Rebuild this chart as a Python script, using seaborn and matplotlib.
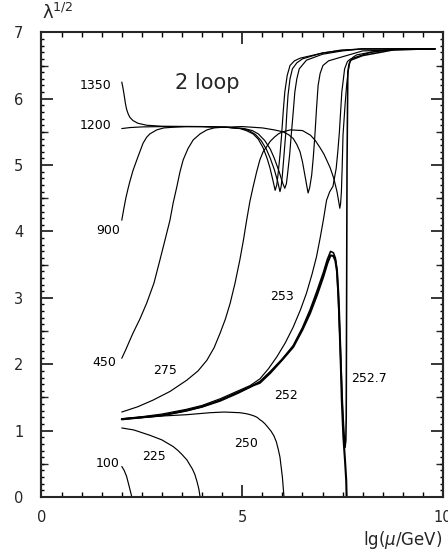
import matplotlib
matplotlib.use('Agg')
import matplotlib.pyplot as plt
from matplotlib.ticker import MultipleLocator
import numpy as np
import seaborn as sns

# lambda^(1/2) vs lg(mu/GeV) at 2 loop, one curve per Higgs mass (GeV)
x_1350 = [2.0, 2.03, 2.06, 2.09, 2.12, 2.16, 2.2, 2.28, 2.4, 2.62, 3.0, 4.0, 4.6, 4.94, 5.1, 5.27,
          5.4, 5.52, 5.62, 5.69, 5.76, 5.82, 5.86, 5.89, 5.94, 5.98, 6.02, 6.06, 6.12, 6.19, 6.3,
          6.44, 6.94, 7.43, 8.0, 9.8]
y_1350 = [6.25, 6.16, 6.05, 5.93, 5.84, 5.77, 5.72, 5.67, 5.63, 5.6, 5.585, 5.58, 5.57, 5.55, 5.52, 5.47,
          5.39, 5.26, 5.1, 4.96, 4.78, 4.62, 4.7, 4.85, 5.15, 5.45, 5.8, 6.1, 6.35, 6.5, 6.57,
          6.61, 6.68, 6.73, 6.75, 6.75]

x_1200 = [2.0, 2.2, 2.5, 3.0, 4.0, 4.6, 5.0, 5.17, 5.33, 5.47, 5.6, 5.7, 5.8, 5.88, 5.94, 5.97,
          6.0, 6.04, 6.08, 6.11, 6.14, 6.19, 6.25, 6.36, 6.5, 7.0, 7.5, 8.0, 9.8]
y_1200 = [5.55, 5.565, 5.575, 5.58, 5.58, 5.57, 5.55, 5.52, 5.46, 5.37, 5.24, 5.1, 4.93, 4.76, 4.6, 4.68,
          4.85, 5.15, 5.45, 5.78, 6.05, 6.3, 6.45, 6.54, 6.6, 6.69, 6.73, 6.75, 6.75]

x_900 = [2.0, 2.05, 2.1, 2.15, 2.2, 2.28, 2.4, 2.53, 2.62, 2.7, 2.87, 3.05, 3.28, 3.6, 4.0, 4.6,
         5.05, 5.25, 5.4, 5.56, 5.7, 5.8, 5.92, 6.0, 6.06, 6.1, 6.13, 6.18, 6.22, 6.27, 6.31, 6.36,
         6.42, 6.6, 7.0, 7.5, 8.0, 9.8]
y_900 = [4.17, 4.34, 4.5, 4.63, 4.75, 4.92, 5.12, 5.33, 5.42, 5.47, 5.53, 5.56, 5.57, 5.58, 5.58, 5.57,
         5.55, 5.52, 5.47, 5.37, 5.24, 5.1, 4.9, 4.74, 4.65, 4.72, 4.87, 5.15, 5.45, 5.8, 6.1, 6.3,
         6.45, 6.58, 6.67, 6.72, 6.75, 6.75]

x_450 = [2.0, 2.1, 2.2, 2.28, 2.45, 2.62, 2.8, 2.95, 3.08, 3.2, 3.28, 3.37, 3.45, 3.53, 3.65, 3.78,
         3.95, 4.12, 4.3, 4.52, 5.0, 5.5, 5.8, 6.02, 6.15, 6.27, 6.36, 6.44, 6.5, 6.56, 6.61, 6.64,
         6.68, 6.73, 6.77, 6.81, 6.85, 6.89, 6.94, 7.01, 7.15, 7.43, 8.0, 9.8]
y_450 = [2.09, 2.22, 2.36, 2.47, 2.68, 2.92, 3.22, 3.57, 3.88, 4.17, 4.43, 4.67, 4.9, 5.08, 5.25, 5.38,
         5.47, 5.53, 5.56, 5.57, 5.58, 5.56, 5.53, 5.5, 5.46, 5.4, 5.31, 5.2, 5.05, 4.85, 4.68, 4.58,
         4.66, 4.85, 5.12, 5.45, 5.85, 6.2, 6.38, 6.5, 6.57, 6.62, 6.72, 6.75]

x_275 = [2.0, 2.4, 2.78, 3.2, 3.62, 3.9, 4.12, 4.3, 4.45, 4.58, 4.7, 4.82, 4.94, 5.03, 5.11, 5.19,
         5.27, 5.36, 5.44, 5.52, 5.6, 5.7, 5.8, 5.9, 6.0, 6.2, 6.5, 6.7, 6.82, 6.94, 7.03, 7.1, 7.19,
         7.28, 7.36, 7.4, 7.43, 7.45, 7.47, 7.49, 7.51, 7.56, 7.6, 7.64, 7.68, 7.75, 7.85, 8.2, 8.7, 9.8]
y_275 = [1.28, 1.36, 1.46, 1.59, 1.76, 1.9, 2.06, 2.25, 2.47, 2.68, 2.92, 3.22, 3.57, 3.87, 4.17, 4.45,
         4.67, 4.9, 5.08, 5.2, 5.27, 5.36, 5.42, 5.47, 5.5, 5.53, 5.52, 5.45, 5.37, 5.26, 5.17, 5.08, 4.96,
         4.8, 4.6, 4.46, 4.35, 4.42, 4.6, 4.98, 5.45, 5.9, 6.2, 6.42, 6.55, 6.62, 6.66, 6.7, 6.74, 6.75]

x_253 = [2.0, 2.5, 3.0, 3.6, 4.0, 4.45, 4.9, 5.2, 5.44, 5.65, 5.86, 6.07, 6.27, 6.45, 6.6, 6.74,
         6.85, 6.94, 7.02, 7.1, 7.18, 7.26, 7.34, 7.38, 7.42, 7.45, 7.48, 7.55, 7.62, 7.7, 8.2, 8.7, 9.8]
y_253 = [1.18, 1.21, 1.25, 1.32, 1.38, 1.48, 1.6, 1.68, 1.78, 1.93, 2.11, 2.32, 2.56, 2.82, 3.07, 3.36,
         3.62, 3.9, 4.17, 4.47, 4.6, 4.68, 4.95, 5.2, 5.5, 5.8, 6.1, 6.45, 6.56, 6.6, 6.7, 6.74, 6.75]

x_2527 = [2.0, 2.5, 3.0, 3.6, 4.0, 4.45, 4.9, 5.2, 5.44, 5.7, 6.0, 6.27, 6.5, 6.69, 6.86, 7.02, 7.12,
          7.2, 7.27, 7.32, 7.36, 7.4, 7.44, 7.47, 7.5, 7.53, 7.56, 7.58, 7.59, 7.6, 7.61, 7.63, 7.66,
          7.7, 8.0, 8.45, 8.8, 9.8]
y_2527 = [1.175, 1.2, 1.23, 1.3, 1.36, 1.46, 1.58, 1.66, 1.74, 1.89, 2.08, 2.28, 2.55, 2.82, 3.1, 3.38, 3.58,
          3.7, 3.68, 3.6, 3.42, 2.9, 2.3, 1.8, 1.35, 1.0, 0.75, 0.85, 1.2, 3.0, 5.0, 6.4, 6.52,
          6.58, 6.65, 6.7, 6.74, 6.75]

x_252 = [2.0, 2.5, 3.0, 3.6, 4.0, 4.45, 4.9, 5.27, 5.44, 5.7, 6.0, 6.27, 6.5, 6.69, 6.86, 7.02, 7.12,
         7.2, 7.27, 7.32, 7.36, 7.4, 7.43, 7.46, 7.48, 7.52, 7.56, 7.59, 7.6]
y_252 = [1.17, 1.2, 1.23, 1.3, 1.36, 1.45, 1.57, 1.68, 1.72, 1.87, 2.07, 2.26, 2.52, 2.77, 3.04, 3.32, 3.52,
         3.64, 3.63, 3.56, 3.4, 3.0, 2.47, 1.9, 1.46, 0.9, 0.55, 0.25, 0.0]

x_250 = [2.0, 3.0, 3.62, 4.2, 4.55, 4.94, 5.1, 5.2, 5.3, 5.37, 5.45, 5.5, 5.57, 5.64, 5.72, 5.79,
         5.85, 5.9, 5.94, 5.97, 6.0, 6.02, 6.04]
y_250 = [1.17, 1.22, 1.24, 1.27, 1.28, 1.27, 1.255, 1.24, 1.22, 1.2, 1.16, 1.14, 1.1, 1.05, 0.99, 0.92,
         0.83, 0.71, 0.6, 0.45, 0.3, 0.15, 0.0]

x_225 = [2.0, 2.3, 2.7, 3.0, 3.28, 3.4, 3.5, 3.62, 3.7, 3.76, 3.82, 3.87, 3.92, 3.95]
y_225 = [1.04, 1.01, 0.93, 0.86, 0.76, 0.7, 0.64, 0.56, 0.48, 0.42, 0.34, 0.24, 0.12, 0.0]

x_100 = [2.0, 2.06, 2.12, 2.18, 2.25]
y_100 = [0.46, 0.4, 0.31, 0.17, 0.0]

curves = [('1350', x_1350, y_1350), ('1200', x_1200, y_1200), ('900', x_900, y_900),
          ('450', x_450, y_450), ('275', x_275, y_275), ('253', x_253, y_253),
          ('252.7', x_2527, y_2527), ('252', x_252, y_252), ('250', x_250, y_250),
          ('225', x_225, y_225), ('100', x_100, y_100)]

sns.set_style('ticks')
plt.rcParams['font.family'] = ['DejaVu Sans']
plt.rcParams['mathtext.fontset'] = 'dejavusans'

fig = plt.figure(figsize=(4.48, 5.58), dpi=100)
ax = fig.add_axes([0.0926, 0.1093, 0.8962, 0.8328])

line_w = {'252': 1.5, '252.7': 1.15}
for name, xs, ys in curves:
    sns.lineplot(x=xs, y=ys, ax=ax, color='black', lw=line_w.get(name, 0.85),
                 sort=False, estimator=None)

ax.set_xlim(0, 10)
ax.set_ylim(0, 7)
ax.set_xticks([0, 5, 10])
ax.xaxis.set_minor_locator(MultipleLocator(0.5))
ax.set_yticks(range(8))
ax.yaxis.set_minor_locator(MultipleLocator(0.1))
ax.tick_params(which='both', direction='in', top=True, right=True, color='black')
ax.tick_params(which='major', length=8.5, width=1.1, labelsize=10.5)
ax.tick_params(axis='x', which='minor', length=3.6, width=1)
ax.tick_params(axis='y', which='minor', length=2.4, width=1)
ax.tick_params(axis='y', pad=13)
ax.tick_params(axis='x', pad=9)
for sp in ax.spines.values():
    sp.set_linewidth(1.5)

# half-unit ticks on the y axes
for side in ['left', 'right']:
    sec = ax.secondary_yaxis(side)
    sec.set_yticks(np.arange(0.5, 7, 1))
    sec.tick_params(direction='in', length=4.8, width=1, labelleft=False, labelright=False)
    sec.spines[side].set_linewidth(1.5)

# curve labels
lab_kw = dict(fontsize=9, color='black')
ax.text(1.75, 6.2, '1350', ha='right', va='center', **lab_kw)
ax.text(1.75, 5.59, '1200', ha='right', va='center', **lab_kw)
ax.text(1.95, 4.02, '900', ha='right', va='center', **lab_kw)
ax.text(1.86, 2.03, '450', ha='right', va='center', **lab_kw)
ax.text(3.09, 1.9, '275', ha='center', va='center', **lab_kw)
ax.text(5.99, 3.02, '253', ha='center', va='center', **lab_kw)
ax.text(6.08, 1.53, '252', ha='center', va='center', **lab_kw)
ax.text(7.7, 1.78, '252.7', ha='left', va='center', **lab_kw)
ax.text(5.09, 0.8, '250', ha='center', va='center', **lab_kw)
ax.text(2.79, 0.61, '225', ha='center', va='center', **lab_kw)
ax.text(1.95, 0.5, '100', ha='right', va='center', **lab_kw)

ax.text(0.332, 0.891, '2 loop', transform=ax.transAxes, ha='left', va='center', fontsize=15)
ax.text(0.002, 1.02, r'λ$^{1/2}$', transform=ax.transAxes, ha='left', va='bottom', fontsize=13)
ax.text(0.998, -0.093, r'lg($\mu$/GeV)', transform=ax.transAxes, ha='right', va='center', fontsize=12)

fig.savefig('out.png', dpi=100)
